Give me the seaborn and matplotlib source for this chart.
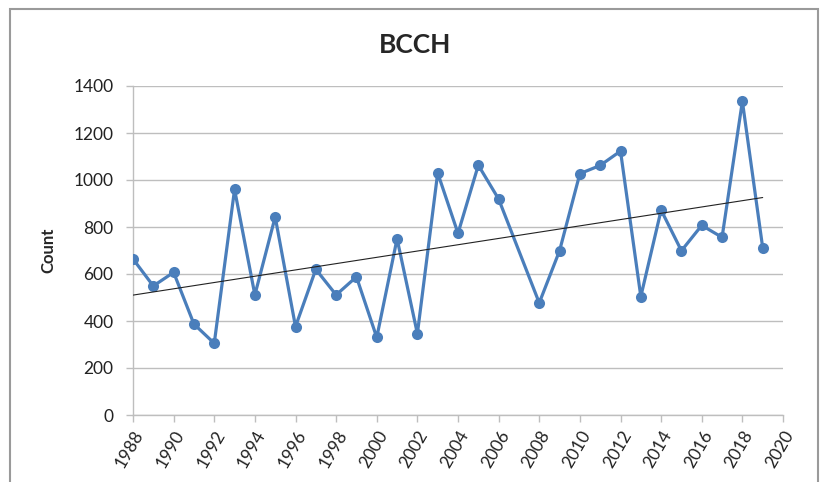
import numpy as np
import pandas as pd
import matplotlib
matplotlib.use("Agg")
import matplotlib.pyplot as plt
import seaborn as sns
from matplotlib.patches import Rectangle

years = [1988, 1989, 1990, 1991, 1992, 1993, 1994, 1995, 1996, 1997, 1998, 1999,
         2000, 2001, 2002, 2003, 2004, 2005, 2006, 2008, 2009, 2010, 2011, 2012,
         2013, 2014, 2015, 2016, 2017, 2018, 2019]
counts = [664, 549, 607, 387, 305, 960, 511, 843, 376, 620, 511, 588,
          330, 750, 346, 1030, 773, 1063, 919, 477, 699, 1027, 1062, 1123,
          504, 872, 699, 807, 756, 1335, 712]
x_ticks = list(range(1988, 2021, 2))
y_ticks = list(range(0, 1401, 200))
title = "BCCH"
ylabel = "Count"

df = pd.DataFrame({"Year": years, "Count": counts})

sns.set_theme(style="white")
plt.rcParams['font.family'] = ['Lato', 'DejaVu Sans']

fig = plt.figure(figsize=(8.21, 4.82), dpi=100)
ax = fig.add_axes([133/821, 1-415/482, (783-133)/821, (415-86)/482])

blue = "#4A7EBB"
sns.lineplot(data=df, x="Year", y="Count", ax=ax, color=blue, linewidth=2.3,
             marker="o", markersize=8, markeredgewidth=0, markeredgecolor=blue,
             zorder=3)

# linear trend line
coef = np.polyfit(df["Year"], df["Count"], 1)
tx = np.array([years[0], years[-1]])
ax.plot(tx, np.polyval(coef, tx), color="#222222", linewidth=0.8, zorder=4)

ax.set_xlim(1988, 2020)
ax.set_ylim(0, 1400)
ax.set_xticks(x_ticks)
ax.set_yticks(y_ticks)
ax.set_xticklabels([str(t) for t in x_ticks], rotation=60, ha="right",
                   rotation_mode="anchor", fontsize=12.5, color="#222222")
ax.set_yticklabels([str(t) for t in y_ticks], fontsize=12.5, color="#222222")
ax.grid(axis="y", color="#BEBEBE", linewidth=1.0)
ax.grid(axis="x", visible=False)
ax.set_axisbelow(True)
for s in ["top", "right"]:
    ax.spines[s].set_visible(False)
for s in ["left", "bottom"]:
    ax.spines[s].set_color("#BEBEBE")
    ax.spines[s].set_linewidth(1.0)
ax.tick_params(axis="y", direction="out", length=5, width=1.0,
               color="#BEBEBE", pad=9, left=True)
ax.tick_params(axis="x", direction="out", length=5, width=1.0,
               color="#BEBEBE", pad=4, bottom=True)
ax.set_xlabel("")
ax.set_ylabel(ylabel, fontsize=12, fontweight="bold", labelpad=12)
fig.text(415/821, 1 - 45/482, title, fontsize=19,
         fontweight="bold", ha="center", va="center")

fig.patches.append(Rectangle((10/821, -0.05), (818-10)/821, 1.05 - 9/482,
                             transform=fig.transFigure, fill=False,
                             edgecolor="#9A9A9A", linewidth=1.5))

fig.savefig("out.png", dpi=100)
